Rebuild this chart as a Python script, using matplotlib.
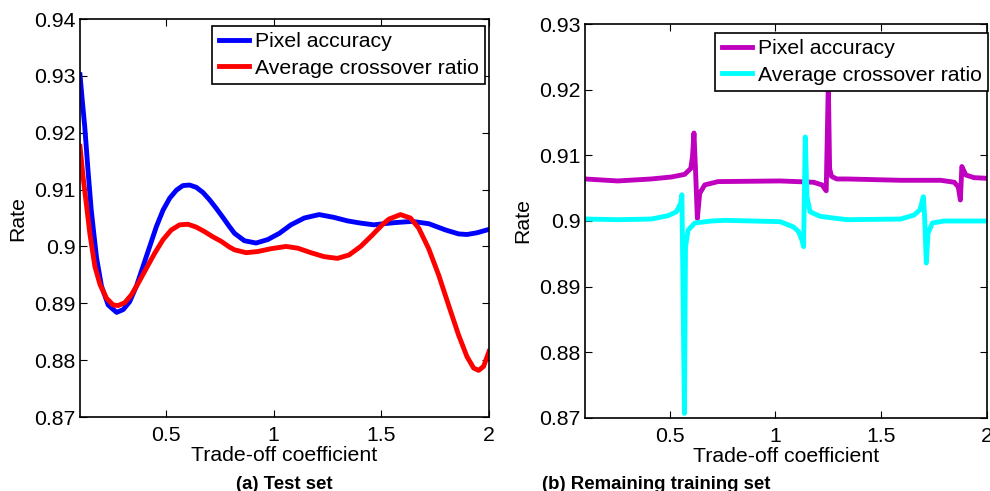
import matplotlib
matplotlib.use("Agg")
import matplotlib.pyplot as plt

plt.rcParams['font.family'] = ['Liberation Sans', 'DejaVu Sans']

# (a) Test set
test_x_pixel = [0.1, 0.111, 0.122, 0.137, 0.152, 0.165, 0.177, 0.200, 0.231, 0.270,
                0.301, 0.331, 0.362, 0.393, 0.424, 0.455, 0.486, 0.517, 0.548, 0.578,
                0.609, 0.640, 0.671, 0.702, 0.733, 0.764, 0.794, 0.818, 0.864, 0.918,
                0.972, 1.026, 1.080, 1.142, 1.211, 1.281, 1.342, 1.404, 1.466, 1.512,
                1.566, 1.643, 1.720, 1.798, 1.859, 1.898, 1.944, 2.0]
test_pixel_acc = [0.9302, 0.9255, 0.9211, 0.9135, 0.9065, 0.9020, 0.8980, 0.8930, 0.8897, 0.8884,
                  0.8889, 0.8903, 0.8930, 0.8965, 0.9000, 0.9035, 0.9064, 0.9085, 0.9099, 0.9107,
                  0.9108, 0.9104, 0.9095, 0.9082, 0.9067, 0.9051, 0.9035, 0.9023, 0.9010, 0.9006,
                  0.9012, 0.9023, 0.9038, 0.9050, 0.9056, 0.9051, 0.9045, 0.9041, 0.9038, 0.9040,
                  0.9042, 0.9044, 0.9040, 0.9029, 0.9022, 0.9021, 0.9024, 0.9030]

test_x_cross = [0.1, 0.115, 0.131, 0.146, 0.169, 0.193, 0.223, 0.254, 0.277, 0.308,
                0.339, 0.370, 0.409, 0.447, 0.486, 0.524, 0.563, 0.602, 0.640, 0.679,
                0.717, 0.756, 0.794, 0.818, 0.872, 0.925, 0.987, 1.057, 1.111, 1.173,
                1.234, 1.296, 1.35, 1.404, 1.458, 1.504, 1.535, 1.589, 1.635, 1.674,
                1.720, 1.767, 1.813, 1.859, 1.898, 1.929, 1.952, 1.975, 2.0]
test_cross_ratio = [0.9176, 0.9120, 0.9070, 0.9022, 0.8965, 0.8933, 0.8909, 0.8897, 0.8896, 0.8901,
                    0.8915, 0.8935, 0.8962, 0.8988, 0.9012, 0.9029, 0.9038, 0.9039, 0.9034, 0.9026,
                    0.9017, 0.9009, 0.8999, 0.8994, 0.8989, 0.8991, 0.8996, 0.9000, 0.8997, 0.8989,
                    0.8982, 0.8979, 0.8985, 0.9000, 0.9020, 0.9038, 0.9048, 0.9056, 0.9050, 0.9032,
                    0.8996, 0.8949, 0.8896, 0.8844, 0.8806, 0.8786, 0.8782, 0.8789, 0.8815]

# (b) Remaining training set
train_x_pixel = [0.1, 0.255, 0.413, 0.508, 0.571, 0.600, 0.608, 0.615, 0.623, 0.631,
                 0.642, 0.666, 0.729, 1.022, 1.18, 1.22, 1.240, 1.250, 1.256, 1.265,
                 1.290, 1.339, 1.592, 1.781, 1.845, 1.864, 1.874, 1.881, 1.9, 1.939, 2.0]
train_pixel_acc = [0.9064, 0.9061, 0.9064, 0.9067, 0.9071, 0.9080, 0.9098, 0.9134, 0.9073, 0.9004,
                   0.9042, 0.9055, 0.9060, 0.9061, 0.9059, 0.9055, 0.9046, 0.9210, 0.9080, 0.9068,
                   0.9064, 0.9064, 0.9062, 0.9062, 0.9059, 0.9052, 0.9032, 0.9083, 0.9070, 0.9066, 0.9065]

train_x_cross = [0.1, 0.255, 0.413, 0.492, 0.532, 0.552, 0.558, 0.570, 0.575, 0.587,
                 0.619, 0.698, 0.761, 1.022, 1.085, 1.109, 1.125, 1.133, 1.141, 1.149,
                 1.164, 1.212, 1.339, 1.592, 1.655, 1.683, 1.699, 1.705, 1.713, 1.721,
                 1.742, 1.797, 2.0]
train_cross_ratio = [0.9003, 0.9002, 0.9003, 0.9008, 0.9014, 0.9027, 0.9040, 0.8707, 0.8960, 0.8986,
                     0.8997, 0.9000, 0.9001, 0.8999, 0.8991, 0.8984, 0.8971, 0.8961, 0.9128, 0.9037,
                     0.9014, 0.9007, 0.9002, 0.9003, 0.9009, 0.9017, 0.9037, 0.9007, 0.8936, 0.8981,
                     0.8997, 0.9000, 0.9000]

x_ticks = [0.5, 1, 1.5, 2]
x_tick_labels = ['0.5', '1', '1.5', '2']
test_y_ticks = [0.87, 0.88, 0.89, 0.90, 0.91, 0.92, 0.93, 0.94]
test_y_labels = ['0.87', '0.88', '0.89', '0.9', '0.91', '0.92', '0.93', '0.94']
train_y_ticks = [0.87, 0.88, 0.89, 0.90, 0.91, 0.92, 0.93]
train_y_labels = ['0.87', '0.88', '0.89', '0.9', '0.91', '0.92', '0.93']
series_names = ['Pixel accuracy', 'Average crossover ratio']

FONT_SIZE = 15.3
LINE_W = 3.5


def style_axes(ax, yticks, ylabels, ylim):
    ax.set_xlim(0.1, 2)
    ax.set_ylim(*ylim)
    ax.set_xticks(x_ticks)
    ax.set_xticklabels(x_tick_labels)
    ax.set_yticks(yticks)
    ax.set_yticklabels(ylabels)
    ax.tick_params(direction='in', top=True, right=True, length=5, width=0.8,
                   labelsize=FONT_SIZE)
    ax.tick_params(axis='x', pad=6.5)
    ax.tick_params(axis='y', pad=3)
    for sp in ax.spines.values():
        sp.set_linewidth(1.2)
    ax.set_xlabel('Trade-off coefficient', fontsize=FONT_SIZE, labelpad=1)
    ax.set_ylabel('Rate', fontsize=FONT_SIZE, labelpad=5)


def add_legend(ax, anchor, fig):
    leg = ax.legend(loc='upper right', bbox_to_anchor=anchor, bbox_transform=fig.transFigure,
                    fontsize=FONT_SIZE, frameon=True, fancybox=False, edgecolor='black',
                    framealpha=1, borderpad=0.3, labelspacing=0.34, handlelength=1.45,
                    handletextpad=0.25, borderaxespad=0)
    leg.get_frame().set_linewidth(1.2)
    leg.set_zorder(10)


fig = plt.figure(figsize=(9.9, 4.91), dpi=100)
ax1 = fig.add_axes([0.0808, 0.1507, 0.4131, 0.8106])
ax2 = fig.add_axes([0.5909, 0.1487, 0.4061, 0.8024])

ax1.plot(test_x_pixel, test_pixel_acc, color='#0000FF', lw=LINE_W,
         solid_joinstyle='round', label=series_names[0])
ax1.plot(test_x_cross, test_cross_ratio, color='#FF0000', lw=LINE_W,
         solid_joinstyle='round', label=series_names[1])
style_axes(ax1, test_y_ticks, test_y_labels, (0.87, 0.94))
add_legend(ax1, (0.4899, 0.947), fig)

ax2.plot(train_x_pixel, train_pixel_acc, color='#BF00BF', lw=LINE_W,
         solid_joinstyle='round', label=series_names[0])
ax2.plot(train_x_cross, train_cross_ratio, color='#00FFFF', lw=LINE_W,
         solid_joinstyle='round', label=series_names[1])
style_axes(ax2, train_y_ticks, train_y_labels, (0.87, 0.93))
add_legend(ax2, (0.998, 0.9328), fig)

fig.text(0.287, 1 - 476 / 491, '(a) Test set', fontsize=13.4, fontweight='bold',
         ha='center', va='top')
fig.text(542 / 990, 1 - 476 / 491, '(b) Remaining training set', fontsize=13.4,
         fontweight='bold', ha='left', va='top')

fig.savefig('out.png', dpi=100)
